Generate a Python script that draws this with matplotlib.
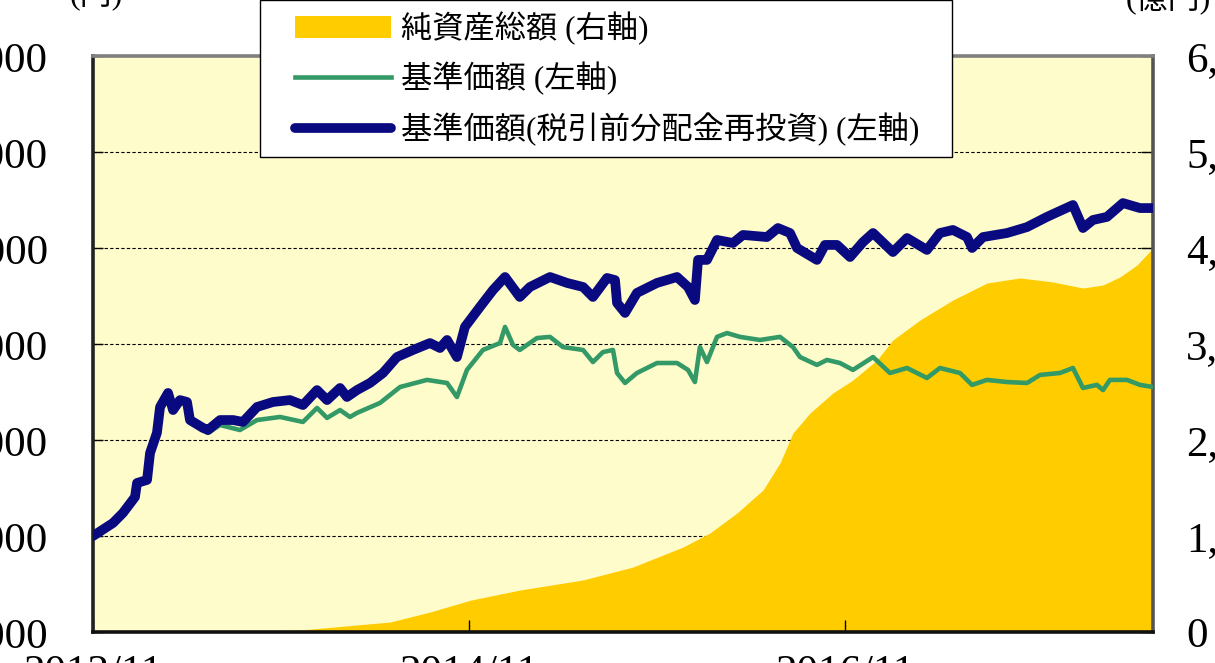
import matplotlib
matplotlib.use("Agg")
import matplotlib.pyplot as plt
from matplotlib.lines import Line2D
from matplotlib.collections import PolyCollection
from matplotlib.legend_handler import HandlerLine2D, HandlerPolyCollection

plt.rcParams['font.family'] = ['Liberation Serif', 'Noto Sans CJK JP', 'DejaVu Sans']

# ---- data (x = months elapsed since 2012/11) ----
blue_m = [0, 1.28, 1.91, 2.68, 2.81, 3.45, 3.64, 4.08, 4.28, 4.79, 5.11, 5.55, 6.00, 6.19, 7.02,
          7.34, 8.11, 8.94, 9.57, 10.47, 11.49, 12.57, 13.40, 14.30, 14.94, 15.77, 16.21, 16.85,
          17.68, 18.51, 19.40, 20.43, 21.51, 22.15, 22.60, 23.23, 23.74, 24.70, 25.53, 26.30,
          27.24, 27.89, 29.17, 30.26, 31.28, 31.91, 32.81, 33.32, 33.45, 33.96, 34.72, 36.00,
          37.28, 37.98, 38.42, 38.62, 39.19, 39.83, 40.85, 41.49, 43.02, 43.72, 44.49, 44.94,
          46.21, 46.72, 47.49, 48.32, 49.15, 49.79, 51.06, 51.96, 53.23, 54.06, 54.89, 55.79,
          56.11, 56.81, 58.34, 59.62, 60.89, 62.55, 63.19, 63.83, 64.72, 65.74, 66.83, 67.66]
blue_v = [10000, 10680, 11200, 12030, 12760, 12920, 14320, 15370, 16720, 17450, 16560, 17080,
          16980, 16040, 15630, 15520, 16040, 16040, 15940, 16720, 16980, 17080, 16820, 17600,
          17080, 17710, 17240, 17600, 17970, 18490, 19320, 19690, 20050, 19790, 20210, 19320,
          20890, 21930, 22810, 23490, 22450, 22970, 23490, 23180, 22970, 22450, 23440, 23330,
          22140, 21620, 22660, 23180, 23490, 22970, 22290, 24380, 24380, 25420, 25260, 25680,
          25570, 26040, 25780, 25000, 24380, 25160, 25160, 24530, 25310, 25780, 24790, 25520,
          24900, 25780, 25940, 25570, 25000, 25570, 25780, 26090, 26620, 27240, 26040, 26460,
          26620, 27340, 27080, 27080]

green_m = [0, 1.28, 1.91, 2.68, 2.81, 3.45, 3.64, 4.08, 4.28, 4.79, 5.11, 5.55, 6.00, 6.19, 7.02,
           7.34, 8.11, 9.38, 10.47, 11.94, 13.40, 14.30, 14.94, 15.77, 16.40, 16.85, 18.32, 19.60,
           21.32, 22.60, 23.23, 23.87, 24.89, 25.98, 26.30, 26.81, 27.24, 28.34, 29.17, 30.00,
           31.28, 31.91, 32.55, 33.19, 33.45, 33.96, 34.72, 36.00, 37.28, 37.98, 38.42, 38.74,
           39.19, 39.83, 40.47, 41.30, 42.57, 43.85, 44.68, 45.13, 46.21, 46.85, 47.68, 48.51,
           49.79, 50.87, 51.96, 53.23, 54.06, 55.34, 56.11, 57.06, 58.34, 59.62, 60.45, 61.72,
           62.55, 63.19, 64.08, 64.47, 64.91, 66.00, 66.83, 67.66]
green_v = [10000, 10680, 11200, 12030, 12760, 12920, 14320, 15370, 16720, 17450, 16560, 17080,
           16980, 16040, 15600, 15370, 15780, 15520, 16040, 16200, 15940, 16670, 16150, 16560,
           16200, 16410, 16930, 17760, 18130, 17970, 17240, 18650, 19690, 20050, 20890, 19950,
           19690, 20310, 20370, 19840, 19690, 19060, 19580, 19690, 18490, 17970, 18490, 19010,
           19010, 18650, 18020, 19840, 19060, 20370, 20570, 20370, 20210, 20370, 19840, 19320,
           18910, 19170, 19010, 18650, 19320, 18490, 18750, 18230, 18750, 18490, 17870, 18130,
           18020, 17970, 18390, 18490, 18750, 17710, 17870, 17600, 18130, 18130, 17870, 17760]

area_m = [0, 10.21, 13.21, 18.96, 21.51, 24.13, 27.25, 31.28, 34.47, 37.66, 39.38, 41.11, 42.77,
          43.85, 44.68, 45.77, 47.23, 48.51, 50.04, 51.06, 52.79, 54.89, 57.06, 59.17, 61.28,
          63.19, 64.47, 65.55, 66.64, 67.66]
area_v = [0, 10, 20, 104, 208, 333, 437, 542, 677, 885, 1031, 1240, 1479, 1760, 2073, 2281, 2490,
          2625, 2833, 3042, 3250, 3458, 3635, 3688, 3646, 3583, 3615, 3698, 3823, 4000]

x_ticks = [0, 24, 48]
x_labels = ['2012/11', '2014/11', '2016/11']
left_ticks = [5000, 10000, 15000, 20000, 25000, 30000, 35000]
left_labels = ['5,000', '10,000', '15,000', '20,000', '25,000', '30,000', '35,000']
right_ticks = [0, 1000, 2000, 3000, 4000, 5000, 6000]
right_labels = ['0', '1,000', '2,000', '3,000', '4,000', '5,000', '6,000']

lab_area = '純資産総額 (右軸)'
lab_green = '基準価額 (左軸)'
lab_blue = '基準価額(税引前分配金再投資) (左軸)'

# ---- figure ----
W, H = 1215, 663
fig = plt.figure(figsize=(W / 100, H / 100), dpi=100)
fig.patch.set_facecolor('white')

L, R, B, T = 93, 1153, 632, 56
ax = fig.add_axes([L / W, 1 - B / H, (R - L) / W, (B - T) / H])
ax2 = ax.twinx()
ax.set_zorder(ax2.get_zorder() + 1)
ax.patch.set_visible(False)
ax2.patch.set_visible(True)
ax2.patch.set_facecolor('#FFFCCC')

# area on right axis
area = ax2.fill_between(area_m, 0, area_v, color='#FFCC00', linewidth=0, zorder=2,
                        label=lab_area)
ax2.set_ylim(0, 6000)
ax2.set_yticks(right_ticks)
ax2.set_yticklabels(right_labels)
ax2.grid(axis='y', color='black', linestyle=(0, (3, 2)), linewidth=0.8, zorder=1)
ax2.set_axisbelow(True)
ax2.tick_params(axis='y', direction='in', length=9, width=1, labelsize=31, pad=24,
                colors='black')
for s in ax2.spines.values():
    s.set_visible(False)

# lines on left axis
g, = ax.plot(green_m, green_v, color='#339966', linewidth=3.3, label=lab_green, zorder=3)
b, = ax.plot(blue_m, blue_v, color='#0A0A80', linewidth=7, label=lab_blue, zorder=4,
             solid_capstyle='round', solid_joinstyle='round')
ax.set_xlim(0, 67.66)
ax.set_ylim(5000, 35000)
ax.set_yticks(left_ticks)
ax.set_yticklabels(left_labels)
ax.set_xticks(x_ticks)
ax.set_xticklabels(x_labels)
ax.tick_params(axis='y', direction='in', length=7, width=1, labelsize=31, pad=32.5)
ax.tick_params(axis='x', direction='in', length=9, width=1, labelsize=31, pad=16)

ax.spines['top'].set_color('#808080')
ax.spines['left'].set_color('#222222')
ax.spines['right'].set_color('#555555')
ax.spines['bottom'].set_color('#111111')
for s in ax.spines.values():
    s.set_linewidth(2.6)

# unit labels
fig.text(96 / W, 1 - 4 / H, '(円)', ha='center', va='baseline', fontsize=23)
fig.text(1168 / W, 1 - 8 / H, '(億円)', ha='center', va='baseline', fontsize=23)

# legend
fs = 22.5
leg = ax.legend([area, g, b], [lab_area, lab_green, lab_blue],
                loc='lower left', bbox_to_anchor=(260 / W, 1 - 157 / H, 692 / W, 0.3),
                bbox_transform=fig.transFigure, mode='expand',
                fontsize=fs, frameon=True, fancybox=False, framealpha=1,
                edgecolor='black', borderpad=0.35, handlelength=3.83, handletextpad=0.33,
                labelspacing=0.55, borderaxespad=0,
                handler_map={Line2D: HandlerLine2D(xpad=0.76),
                             PolyCollection: HandlerPolyCollection(xpad=0.76)})
leg.get_frame().set_linewidth(1.0)
leg.set_zorder(10)

fig.savefig('out.png', dpi=100, facecolor='white')
